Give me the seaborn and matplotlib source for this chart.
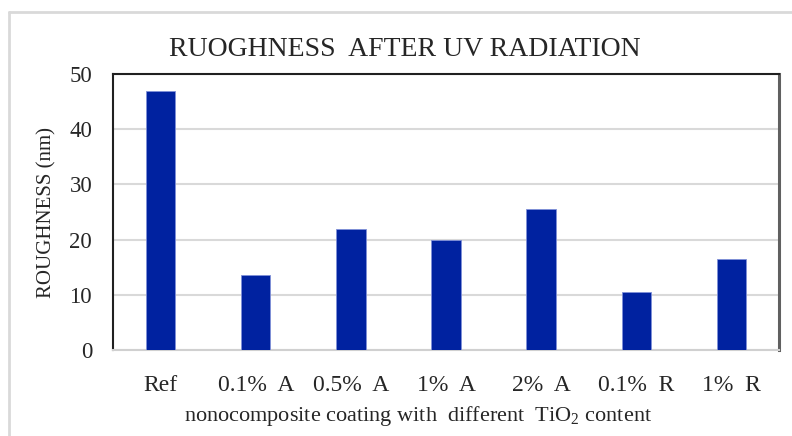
import matplotlib
matplotlib.use("Agg")
import matplotlib.pyplot as plt
from matplotlib.lines import Line2D
import seaborn as sns
import pandas as pd

categories = ["Ref", "0.1%  A", "0.5%  A", "1%  A", "2%  A", "0.1%  R", "1%  R"]
roughness = [47.0, 13.5, 22.0, 20.0, 25.6, 10.5, 16.5]
yticks = [0, 10, 20, 30, 40, 50]

sns.set_theme(style="white")
plt.rcParams["font.family"] = ["Liberation Serif", "DejaVu Serif"]
plt.rcParams["mathtext.fontset"] = "custom"
plt.rcParams["mathtext.rm"] = "Liberation Serif"
plt.rcParams["mathtext.it"] = "Liberation Serif:italic"

df = pd.DataFrame({"cat": categories, "val": roughness})

fig = plt.figure(figsize=(7.92, 4.36), dpi=100)
ax = fig.add_axes([113/792, 1-350/436, (779-113)/792, (350-74)/436])

sns.barplot(data=df, x="cat", y="val", color="#0022A0", saturation=1,
            width=0.31, edgecolor="#8090d8", linewidth=0.6, ax=ax, zorder=3)

ax.set_ylim(0, 50)
ax.set_xlim(-0.5, len(categories) - 0.5)
ax.set_yticks(yticks)
ax.set_yticklabels([str(t) for t in yticks], fontsize=16.5)
ax.tick_params(axis="x", labelsize=17, length=0, pad=18)
ax.tick_params(axis="y", length=0, pad=15)
ax.yaxis.grid(True, color="#d9d9d9", linewidth=1.5, zorder=0)
ax.set_axisbelow(True)

for s in ["left", "top"]:
    ax.spines[s].set_color("#202020")
    ax.spines[s].set_linewidth(1.5)
ax.spines["right"].set_color("#606060")
ax.spines["right"].set_linewidth(2.2)
ax.spines["bottom"].set_color("#d0d0d0")
ax.spines["bottom"].set_linewidth(1.5)

ax.set_xlabel(r"nonocomposite coating with  different  TiO$_2$ content", fontsize=16)
ax.xaxis.set_label_coords((418 - 113) / 666, -0.238)
ax.xaxis.label.set_va("center")
ax.set_ylabel("ROUGHNESS (nm)", fontsize=15, labelpad=9)

fig.text(405/792, 1-50/436, "RUOGHNESS  AFTER UV RADIATION", fontsize=20,
         ha="center", va="center")

# outer frame (light gray), top and left edges
fig.add_artist(Line2D([9/792, 1.0], [1-12/436, 1-12/436], transform=fig.transFigure,
                      color="#d9d9d9", linewidth=2))
fig.add_artist(Line2D([9/792, 9/792], [0, 1-12/436], transform=fig.transFigure,
                      color="#d9d9d9", linewidth=2))

fig.savefig("out.png", dpi=100)
